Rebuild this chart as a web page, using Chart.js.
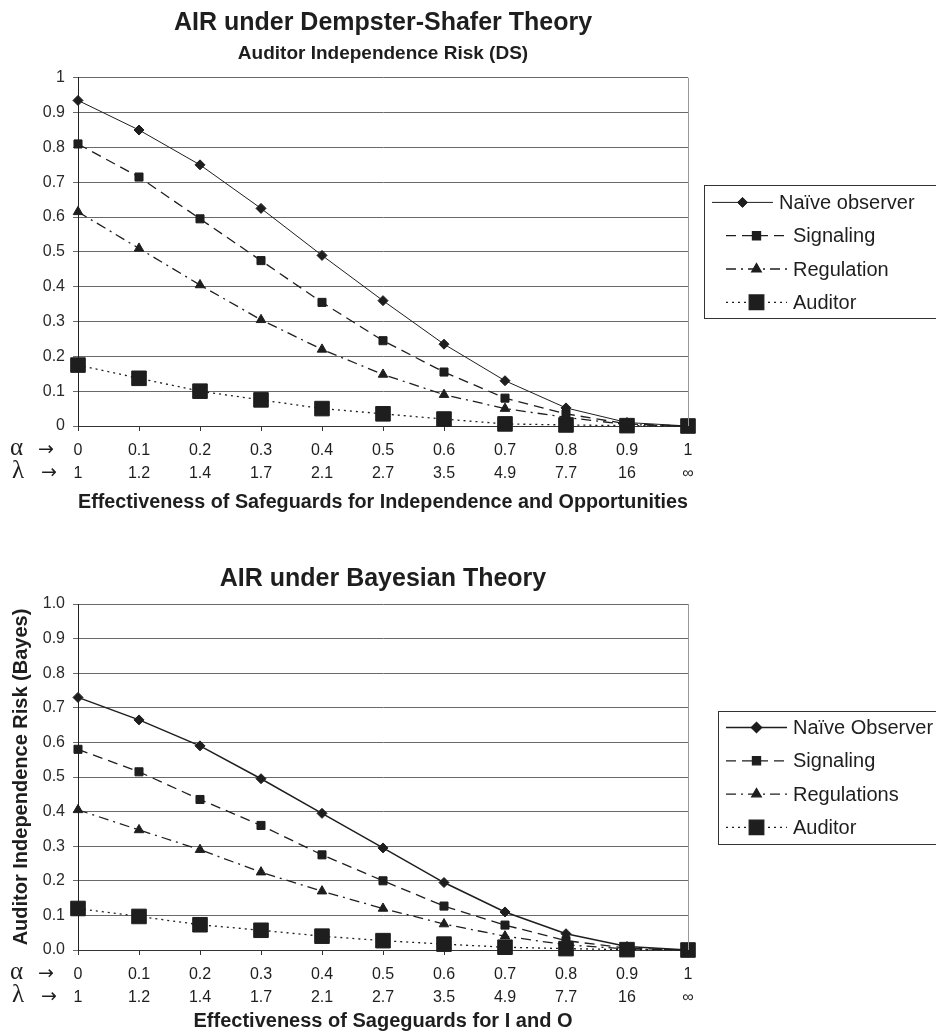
<!DOCTYPE html>
<html>
<head>
<meta charset="utf-8">
<script src="https://cdn.jsdelivr.net/npm/chart.js@4.4.1/dist/chart.umd.min.js"></script>
<style>
html, body { margin: 0; padding: 0; background: #fff; overflow: hidden; }
#wrap { position: relative; width: 936px; height: 1033px; }
.box { position: absolute; left: 0; width: 936px; }
</style>
</head>
<body>
<div id="wrap">
    <div class="box" style="top:0;height:514px"><canvas id="dsChart"></canvas></div>
    <div class="box" style="top:516px;height:517px"><canvas id="bayesChart"></canvas></div>
</div>
<script>
// Tick labels (alpha and lambda rows)
const alphaLabels = ['0', '0.1', '0.2', '0.3', '0.4', '0.5', '0.6', '0.7', '0.8', '0.9', '1'];
const lambdaLabels = ['1', '1.2', '1.4', '1.7', '2.1', '2.7', '3.5', '4.9', '7.7', '16', '\u221E'];

// Dempster-Shafer series
const dsNaive = [0.935, 0.85, 0.75, 0.625, 0.49, 0.36, 0.235, 0.13, 0.052, 0.01, 0];
const dsSignaling = [0.81, 0.715, 0.595, 0.475, 0.355, 0.245, 0.155, 0.08, 0.035, 0.006, 0];
const dsRegulation = [0.615, 0.51, 0.405, 0.305, 0.22, 0.148, 0.09, 0.05, 0.025, 0.004, 0];
const dsAuditor = [0.175, 0.137, 0.1, 0.075, 0.05, 0.035, 0.02, 0.006, 0.003, 0.001, 0];

// Bayesian series
const bayesNaive = [0.73, 0.665, 0.59, 0.495, 0.395, 0.295, 0.195, 0.11, 0.047, 0.01, 0];
const bayesSignaling = [0.58, 0.515, 0.435, 0.36, 0.275, 0.2, 0.127, 0.072, 0.027, 0.005, 0];
const bayesRegulations = [0.405, 0.347, 0.29, 0.225, 0.17, 0.12, 0.075, 0.04, 0.015, 0.003, 0];
const bayesAuditor = [0.12, 0.097, 0.073, 0.057, 0.04, 0.027, 0.017, 0.008, 0.004, 0.001, 0];

const FONT = '"Liberation Sans", Arial, Helvetica, sans-serif';
const INK = '#1e1e1e';
const TICK_LEN = 5;
const TICK_PAD = 8;
const ROW_H = 23;
Chart.defaults.font.family = FONT;
Chart.defaults.color = '#2a2a2a';

// Boxed legend in the Excel style, drawn right of the plot
const boxLegend = {
    id: 'boxLegend',
    afterDraw(chart, args, opts) {
        const ctx = chart.ctx;
        const area = chart.chartArea;
        const rowH = 33.3;
        const sets = chart.data.datasets;
        const h = 133;
        const left = area.right + opts.offsetX;
        const top = (area.top + area.bottom) / 2 - h / 2;
        ctx.save();
        ctx.strokeStyle = '#333';
        ctx.lineWidth = 1;
        ctx.setLineDash([]);
        ctx.strokeRect(Math.round(left) + 0.5, Math.round(top) + 0.5, 400, h);
        sets.forEach((ds, i) => {
            const y = top + 17 + rowH * i;
            const x0 = left + opts.sampleX[i];
            const x1 = x0 + 61;
            ctx.strokeStyle = INK;
            ctx.lineWidth = ds.borderWidth;
            ctx.setLineDash(ds.borderDash || []);
            ctx.beginPath();
            ctx.moveTo(x0, y);
            ctx.lineTo(x1, y);
            ctx.stroke();
            ctx.setLineDash([]);
            ctx.fillStyle = INK;
            Chart.helpers.drawPoint(ctx, {
                pointStyle: ds.pointStyle,
                radius: ds.pointRadius,
                rotation: 0,
                borderWidth: 1
            }, (x0 + x1) / 2, y);
            ctx.fillStyle = INK;
            ctx.font = '20px ' + FONT;
            ctx.textBaseline = 'middle';
            ctx.textAlign = 'left';
            ctx.fillText(ds.label, x1 + 6, y + 1);
        });
        ctx.restore();
    }
};

// Right frame line and the alpha / lambda row captions
const axisExtras = {
    id: 'axisExtras',
    afterDraw(chart) {
        const ctx = chart.ctx;
        const area = chart.chartArea;
        const xs = chart.scales.x;
        ctx.save();
        ctx.strokeStyle = '#999';
        ctx.lineWidth = 1;
        ctx.beginPath();
        ctx.moveTo(Math.round(area.right) + 0.5, area.top);
        ctx.lineTo(Math.round(area.right) + 0.5, area.bottom);
        ctx.stroke();

        const y1 = xs.top + TICK_LEN + TICK_PAD + ROW_H / 2;
        const y2 = y1 + ROW_H;
        ctx.fillStyle = INK;
        ctx.textBaseline = 'middle';
        ctx.textAlign = 'left';
        ctx.font = '25px "Liberation Serif", "DejaVu Serif", serif';
        ctx.fillText('\u03B1', 10, y1 - 2);
        ctx.fillText('\u03BB', 12, y2 - 2);
        ctx.font = '19px "DejaVu Sans", sans-serif';
        ctx.fillText('\u2192', 38, y1);
        ctx.fillText('\u2192', 41, y2);
        ctx.restore();
    }
};

function makeDatasets(names, series, naiveWidth) {
    const styles = [
        { borderDash: [], pointStyle: 'rectRot', pointRadius: 5, borderWidth: naiveWidth },
        { borderDash: [10, 6], pointStyle: 'rect', pointRadius: 5.7, borderWidth: 1.3 },
        { borderDash: [10, 5, 2, 5], pointStyle: 'triangle', pointRadius: 5.5, borderWidth: 1.3 },
        { borderDash: [2, 4], pointStyle: 'rect', pointRadius: 10.3, borderWidth: 1.3 }
    ];
    return series.map((data, i) => ({
        label: names[i],
        data: data,
        borderColor: INK,
        backgroundColor: INK,
        pointBackgroundColor: INK,
        pointBorderColor: INK,
        pointBorderWidth: 1,
        fill: false,
        tension: 0,
        clip: false,
        ...styles[i]
    }));
}

function buildOptions(cfg) {
    return {
        responsive: true,
        maintainAspectRatio: false,
        animation: false,
        layout: { padding: { left: cfg.padLeft, right: 248, top: 0, bottom: 0 } },
        plugins: {
            legend: { display: false },
            tooltip: { enabled: false },
            title: {
                display: true,
                text: cfg.title,
                fullSize: false,
                color: INK,
                font: { size: 25, weight: 'bold', lineHeight: 1.2 },
                padding: cfg.titlePad
            },
            subtitle: {
                display: !!cfg.subtitle,
                text: cfg.subtitle || '',
                fullSize: false,
                color: INK,
                font: { size: 19, weight: 'bold', lineHeight: 1.2 },
                padding: { top: 0, bottom: 13 }
            },
            boxLegend: { offsetX: cfg.legendX, sampleX: cfg.sampleX }
        },
        scales: {
            x: {
                type: 'category',
                offset: false,
                grid: { display: true, drawOnChartArea: false, drawTicks: true, tickLength: TICK_LEN, color: '#333' },
                border: { display: true, color: '#333', width: 1 },
                ticks: {
                    autoSkip: false,
                    maxRotation: 0,
                    padding: TICK_PAD,
                    color: INK,
                    font: { size: 16, lineHeight: ROW_H / 16 },
                    callback: (v, i) => [alphaLabels[i], lambdaLabels[i]]
                },
                title: {
                    display: true,
                    text: cfg.xTitle,
                    color: INK,
                    font: { size: 20, weight: 'bold', lineHeight: 1.2 },
                    padding: { top: cfg.xTitlePad, bottom: 0 }
                }
            },
            y: {
                min: 0,
                max: 1,
                afterFit: s => { s.width = 78 - cfg.padLeft; },
                grid: { color: '#6a6a6a', tickLength: TICK_LEN, lineWidth: 1 },
                border: { display: true, color: '#222', width: 1 },
                ticks: {
                    stepSize: 0.1,
                    padding: 8,
                    color: '#2a2a2a',
                    font: { size: 16 },
                    callback: cfg.yFormat
                },
                title: {
                    display: !!cfg.yTitle,
                    text: cfg.yTitle || '',
                    color: INK,
                    font: { size: 20, weight: 'bold', lineHeight: 1.2 },
                    padding: { top: 0, bottom: 0 }
                }
            }
        }
    };
}

new Chart(document.getElementById('dsChart'), {
    type: 'line',
    data: {
        labels: alphaLabels,
        datasets: makeDatasets(
            ['Na\u00EFve observer', 'Signaling', 'Regulation', 'Auditor'],
            [dsNaive, dsSignaling, dsRegulation, dsAuditor], 1)
    },
    options: buildOptions({
        title: 'AIR under Dempster-Shafer Theory',
        subtitle: 'Auditor Independence Risk (DS)',
        titlePad: { top: 8, bottom: 4 },
        xTitle: 'Effectiveness of Safeguards for Independence and Opportunities',
        xTitlePad: -3,
        padLeft: 0,
        legendX: 16,
        sampleX: [8, 22, 22, 22],
        yFormat: v => String(Math.round(v * 10) / 10)
    }),
    plugins: [boxLegend, axisExtras]
});

new Chart(document.getElementById('bayesChart'), {
    type: 'line',
    data: {
        labels: alphaLabels,
        datasets: makeDatasets(
            ['Na\u00EFve Observer', 'Signaling', 'Regulations', 'Auditor'],
            [bayesNaive, bayesSignaling, bayesRegulations, bayesAuditor], 1.5)
    },
    options: buildOptions({
        title: 'AIR under Bayesian Theory',
        titlePad: { top: 48, bottom: 10 },
        xTitle: 'Effectiveness of Sageguards for I and O',
        xTitlePad: -8,
        yTitle: 'Auditor Independence Risk (Bayes)',
        padLeft: 9,
        legendX: 30,
        sampleX: [8, 8, 8, 8],
        yFormat: v => (Math.round(v * 10) / 10).toFixed(1)
    }),
    plugins: [boxLegend, axisExtras]
});
</script>
</body>
</html>
